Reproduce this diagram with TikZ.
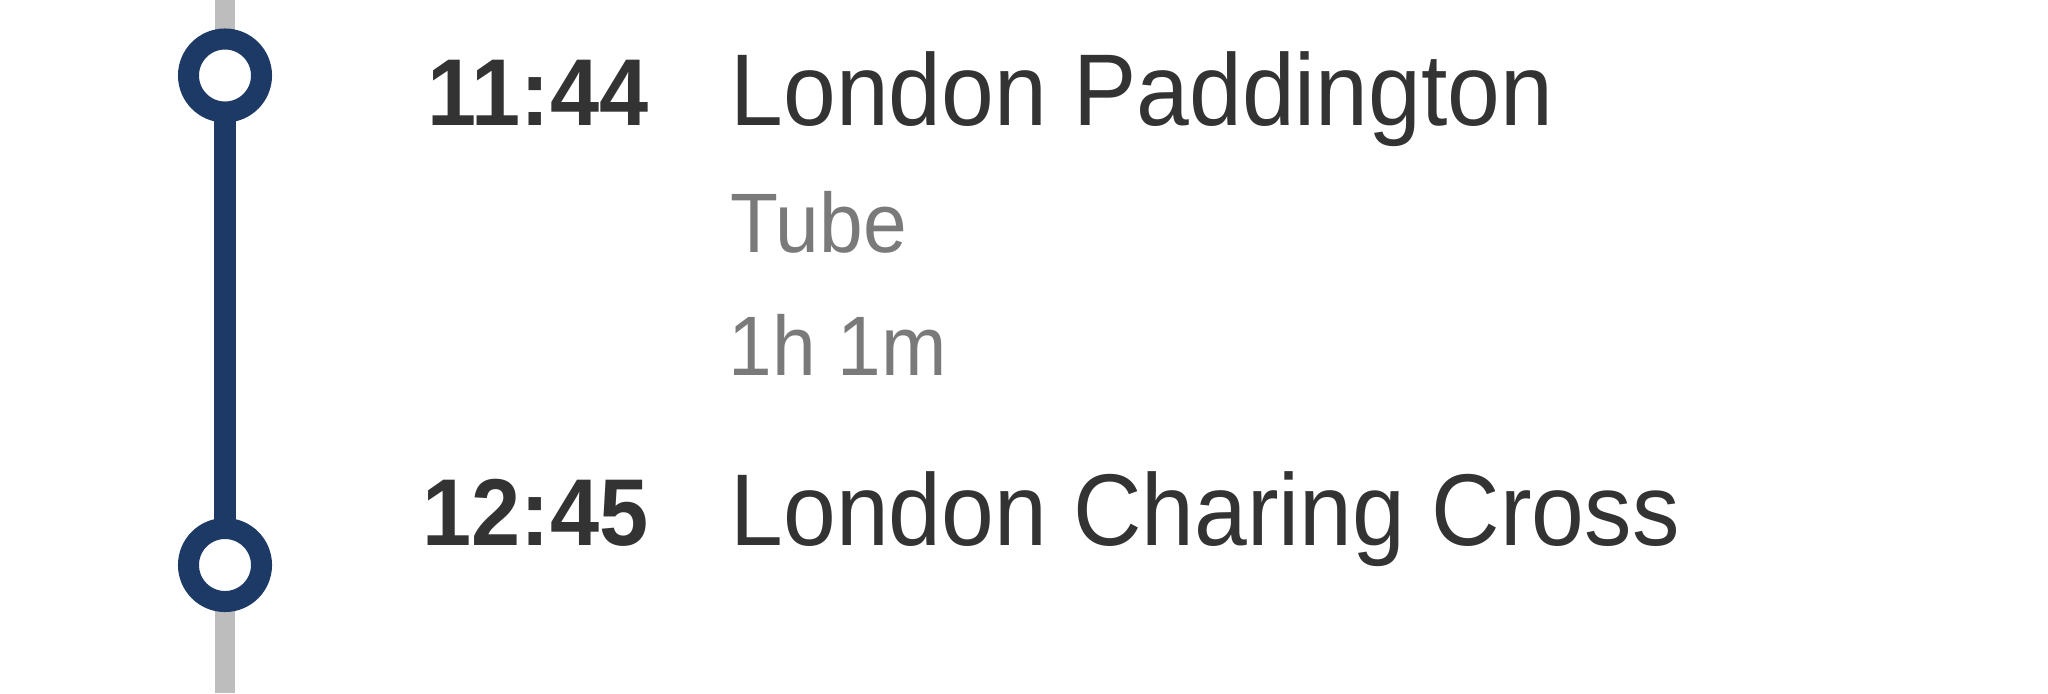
\documentclass[tikz,border=0pt]{standalone}
\usepackage{fontspec}
\setmainfont[FakeStretch=0.93]{Liberation Sans}
\usetikzlibrary{calc,backgrounds}

\definecolor{navy}{HTML}{1D3A66}
\definecolor{trackgray}{HTML}{BDBDBD}
\definecolor{inkdark}{HTML}{333333}
\definecolor{inkgray}{HTML}{7A7A7A}

\tikzset{
  stop/.style={circle,draw=navy,fill=white,line width=0.21cm,minimum size=0.73cm,inner sep=0pt},
  leg/.style={navy,line width=0.21cm},
  track/.style={trackgray,line width=0.20cm},
  time/.style={inkdark,anchor=base east,inner sep=0pt,font=\fontsize{27}{27}\selectfont\bfseries},
  station/.style={inkdark,anchor=base west,inner sep=0pt,font=\fontsize{29}{29}\selectfont},
  detail/.style={inkgray,anchor=base west,inner sep=0pt,font=\fontsize{24}{24}\selectfont}
}

\begin{document}
\begin{tikzpicture}[x=0.01cm,y=-0.01cm]
  \useasboundingbox (0,0) rectangle (2048,693);

  % the two stops
  \node[stop] (depart) at (225,75.5) {};
  \node[stop] (arrive) at (225,565) {};

  % track in and out, and the leg between the stops
  \coordinate (track top) at (225,0);
  \coordinate (track bottom) at (225,693);
  \begin{scope}[on background layer]
    \draw[track] (track top) -- (depart.center);
    \draw[track] (arrive.center) -- (track bottom);
    \draw[leg] (depart.center) -- (arrive.center);
  \end{scope}

  % departure
  \node[time] (depart time) at (649,125) {11:44};
  \node[station] (depart name) at (730,125) {London Paddington};

  % leg details
  \node[detail] (mode) at (730,252) {Tube};
  \node[detail] (duration) at (728,375) {1h 1m};

  % arrival
  \node[time] (arrive time) at (649,545) {12:45};
  \node[station] (arrive name) at (730,545) {London Charing Cross};
\end{tikzpicture}
\end{document}
